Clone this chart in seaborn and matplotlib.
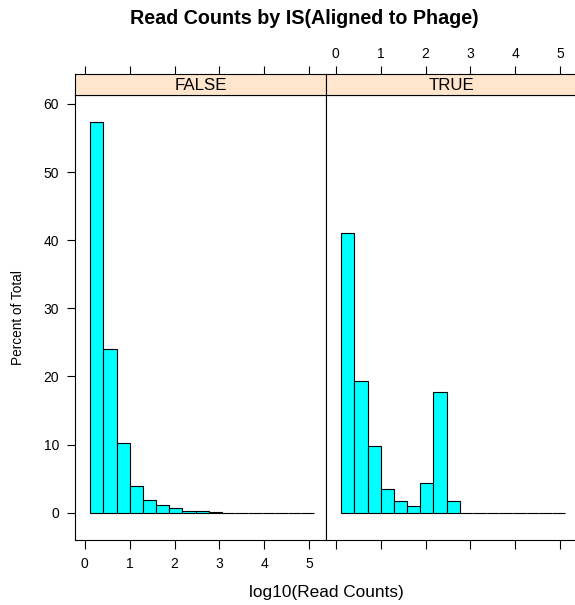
import numpy as np
import pandas as pd
import seaborn as sns
import matplotlib.pyplot as plt

# histogram bins (log10 read counts) and percent of total per panel
bin_start = 0.12
bin_width = 0.294
n_bins = 17
pct_false = [57.3, 24.05, 10.26, 3.9, 1.86, 1.17, 0.68, 0.29, 0.29, 0.1,
             0.02, 0.02, 0.01, 0.02, 0.01, 0.0, 0.01]
pct_true = [41.06, 19.3, 9.77, 3.42, 1.71, 0.93, 4.4, 17.74, 1.76, 0.0,
            0.0, 0.0, 0.0, 0.0, 0.0, 0.0, 0.0]
panels = ['FALSE', 'TRUE']

edges = bin_start + bin_width * np.arange(n_bins + 1)
centers = (edges[:-1] + edges[1:]) / 2
df = pd.DataFrame({
    'IS': np.repeat(panels, n_bins),
    'x': np.tile(centers, 2),
    'pct': pct_false + pct_true,
})

sns.set_style('white')
plt.rcParams['font.family'] = ['Liberation Sans', 'DejaVu Sans']
plt.rcParams['text.color'] = 'black'
plt.rcParams['xtick.color'] = 'black'
plt.rcParams['ytick.color'] = 'black'

W, H = 575, 605
fig = plt.figure(figsize=(W / 100, H / 100), dpi=100)

def box(x0, y0, x1, y1):
    return [x0 / W, 1 - y1 / H, (x1 - x0) / W, (y1 - y0) / H]

xlim = (-0.22, 5.38)
ylim = (-4, 61.3)
for i, name in enumerate(panels):
    x0 = 75 + i * 251
    ax = fig.add_axes(box(x0, 95, x0 + 251, 540))
    sub = df[df['IS'] == name]
    sns.histplot(data=sub, x='x', weights='pct', binwidth=bin_width,
                 binrange=(float(edges[0]), float(edges[-1])), ax=ax,
                 color='cyan', edgecolor='black', linewidth=0.8, alpha=1)
    ax.set_xlim(xlim)
    ax.set_ylim(ylim)
    ax.set_xlabel('')
    ax.set_ylabel('')
    ax.set_xticks(range(6))
    ax.tick_params(axis='x', direction='out', length=6.5, width=0.8,
                   labelsize=10, pad=6, bottom=True, labelbottom=(i == 0))
    ax.set_yticks(range(0, 61, 10))
    if i == 0:
        ax.tick_params(axis='y', direction='out', length=6, width=0.8,
                       labelsize=10, pad=5.5, left=True, right=False)
    else:
        ax.tick_params(axis='y', left=False, right=True, labelleft=False,
                       direction='out', length=6, width=0.8)
    for s in ax.spines.values():
        s.set_linewidth(0.8)
        s.set_color('black')

    # strip on top
    st = fig.add_axes(box(x0, 74, x0 + 251, 95))
    st.set_facecolor('#ffe5cc')
    st.set_xlim(xlim)
    st.set_yticks([])
    st.set_xticks(range(6))
    st.tick_params(axis='x', direction='out', length=6, width=0.8,
                   labelsize=10, pad=3, bottom=False, labelbottom=False,
                   top=True, labeltop=(i == 1))
    for s in st.spines.values():
        s.set_linewidth(0.8)
        s.set_color('black')
    st.text(0.5, 0.45, name, transform=st.transAxes, ha='center',
            va='center', fontsize=12.2)

fig.text(304 / W, 1 - 18 / H, 'Read Counts by IS(Aligned to Phage)',
         ha='center', va='center', fontsize=14.2, fontweight='bold')
fig.text(326 / W, 1 - 592 / H, 'log10(Read Counts)', ha='center',
         va='center', fontsize=12.4)
fig.text(18 / W, 1 - 318 / H, 'Percent of Total', ha='center',
         va='center', fontsize=9.8, rotation=90)

fig.savefig('out.png', dpi=100)
